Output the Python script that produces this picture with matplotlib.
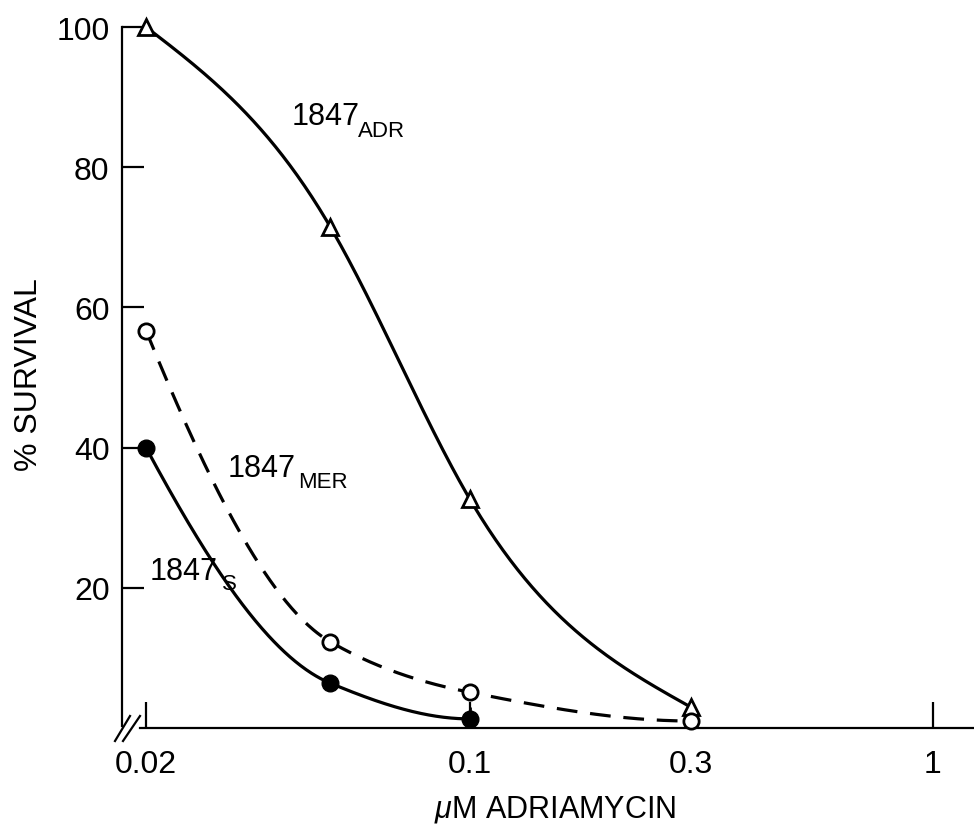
import numpy as np
import matplotlib
matplotlib.use("Agg")
import matplotlib.pyplot as plt
from matplotlib.lines import Line2D

plt.rcParams["font.family"] = ["Liberation Sans", "DejaVu Sans"]
plt.rcParams["mathtext.fontset"] = "custom"
plt.rcParams["mathtext.it"] = "Liberation Sans:italic"
plt.rcParams["mathtext.rm"] = "Liberation Sans"

# Adriamycin concentration (uM) and % survival for each 1847 line
dose = [0.02, 0.05, 0.1, 0.3]
surv_adr = [100, 71.5, 32.7, 3.0]
surv_mer = [56.7, 12.3, 5.1, 1.0]
dose_s = [0.02, 0.05, 0.1]
surv_s = [40, 6.4, 1.3]
err_s_upper = [0, 0, 1.7]

xticks = [0.02, 0.1, 0.3, 1]
xticklabels = ["0.02", "0.1", "0.3", "1"]
yticks = [20, 40, 60, 80, 100]


def natural_spline(xk, yk, xq):
    """Natural cubic spline through the given knots."""
    xk = np.asarray(xk, float)
    yk = np.asarray(yk, float)
    n = len(xk)
    h = np.diff(xk)
    delta = np.diff(yk) / h
    M = np.zeros(n)
    if n > 2:
        A = np.zeros((n - 2, n - 2))
        b = np.zeros(n - 2)
        for i in range(1, n - 1):
            r = i - 1
            A[r, r] = 2 * (h[i - 1] + h[i])
            if r > 0:
                A[r, r - 1] = h[i - 1]
            if r < n - 3:
                A[r, r + 1] = h[i]
            b[r] = 6 * (delta[i] - delta[i - 1])
        M[1:-1] = np.linalg.solve(A, b)
    xq = np.asarray(xq, float)
    idx = np.clip(np.searchsorted(xk, xq) - 1, 0, n - 2)
    t = (xq - xk[idx]) / h[idx]
    hh = h[idx]
    lin = (1 - t) * yk[idx] + t * yk[idx + 1]
    corr = hh**2 / 6 * (((1 - t) ** 3 - (1 - t)) * M[idx]
                        + (t**3 - t) * M[idx + 1])
    return lin + corr


def pchip(xk, yk, xq):
    """Shape-preserving piecewise cubic Hermite interpolation."""
    xk = np.asarray(xk, float)
    yk = np.asarray(yk, float)
    h = np.diff(xk)
    delta = np.diff(yk) / h
    n = len(xk)
    d = np.zeros(n)
    for k in range(1, n - 1):
        if delta[k - 1] * delta[k] > 0:
            w1 = 2 * h[k] + h[k - 1]
            w2 = h[k] + 2 * h[k - 1]
            d[k] = (w1 + w2) / (w1 / delta[k - 1] + w2 / delta[k])

    def end_slope(h0, h1, d0, d1):
        s = ((2 * h0 + h1) * d0 - h0 * d1) / (h0 + h1)
        if np.sign(s) != np.sign(d0):
            s = 0.0
        elif np.sign(d0) != np.sign(d1) and abs(s) > abs(3 * d0):
            s = 3 * d0
        return s

    d[0] = end_slope(h[0], h[1], delta[0], delta[1])
    d[-1] = end_slope(h[-1], h[-2], delta[-1], delta[-2])
    xq = np.asarray(xq, float)
    idx = np.clip(np.searchsorted(xk, xq) - 1, 0, n - 2)
    t = (xq - xk[idx]) / h[idx]
    h00 = 2 * t**3 - 3 * t**2 + 1
    h10 = t**3 - 2 * t**2 + t
    h01 = -2 * t**3 + 3 * t**2
    h11 = t**3 - t**2
    return (h00 * yk[idx] + h10 * h[idx] * d[idx]
            + h01 * yk[idx + 1] + h11 * h[idx] * d[idx + 1])


def smooth(xs, ys, method, num=300):
    lx = np.log10(xs)
    q = np.linspace(lx[0], lx[-1], num)
    return 10 ** q, method(lx, ys, q)


W, H = 974, 829
fig = plt.figure(figsize=(W / 100, H / 100), dpi=100)
ax = fig.add_axes([122 / W, 1 - 729 / H, 1 - 122 / W, (729 - 28) / H])

ax.set_xscale("log")
ax.set_xlim(0.01775, 1.2285)
ax.set_ylim(0, 100)

lw = 2.3
ms = 11

# 1847 ADR: solid line, open triangles
cx, cy = smooth(dose, surv_adr, natural_spline)
ax.plot(cx, cy, color="black", lw=lw, solid_capstyle="round", zorder=2)
ax.plot(dose, surv_adr, ls="none", marker="^", ms=ms, mfc="white",
        mec="black", mew=2, clip_on=False, zorder=4)

# 1847 MER: dashed line, open circles
cx, cy = smooth(dose, surv_mer, pchip)
ln, = ax.plot(cx, cy, color="black", lw=lw, zorder=2)
ln.set_dashes((6.5, 4))
ax.plot(dose, surv_mer, ls="none", marker="o", ms=ms, mfc="white",
        mec="black", mew=2, clip_on=False, zorder=4)

# 1847 S: solid line, filled circles
cx, cy = smooth(dose_s, surv_s, pchip)
ax.plot(cx, cy, color="black", lw=lw, zorder=2)
ax.errorbar(dose_s, surv_s, yerr=[np.zeros(len(err_s_upper)), err_s_upper],
            fmt="o", ms=ms + 1, color="black", ecolor="black", elinewidth=2,
            capsize=0, clip_on=False, zorder=4)

# axes styling
for side in ("top", "right"):
    ax.spines[side].set_visible(False)
ax.spines["left"].set_linewidth(1.6)
ax.spines["bottom"].set_linewidth(1.6)
ax.spines["left"].set_bounds(0.3, 100)
ax.spines["bottom"].set_bounds(0.0194, 1.2285)

ax.set_xticks(xticks)
ax.set_xticklabels(xticklabels)
ax.xaxis.set_minor_locator(matplotlib.ticker.NullLocator())
ax.set_yticks(yticks)
ax.tick_params(axis="x", direction="in", length=19, width=1.6, pad=15,
               labelsize=23)
ax.tick_params(axis="y", direction="in", length=16, width=1.6, pad=9,
               labelsize=23)

# axis break marks at the origin
for x0, x1 in ((115, 130), (123, 140)):
    fig.add_artist(Line2D([x0 / W, x1 / W], [1 - 742 / H, 1 - 717 / H],
                          color="black", lw=1.6))

fig.text(29 / W, 1 - 375 / H, "% SURVIVAL", rotation=90, fontsize=23,
         ha="center", va="center")
fig.text(555 / W, 1 - 810 / H, r"$\mu$M ADRIAMYCIN", fontsize=22,
         ha="center", va="center")

# curve labels with subscripts
labels = [
    ((292, 125), (358, 137), "ADR"),
    ((228, 477), (298, 488), "MER"),
    ((150, 580), (222, 590), "S"),
]
for (mx, my), (sx, sy), sub in labels:
    fig.text(mx / W, 1 - my / H, "1847", fontsize=22, ha="left",
             va="baseline")
    fig.text(sx / W, 1 - sy / H, sub, fontsize=16, ha="left",
             va="baseline")

fig.savefig("out.png", dpi=100)
